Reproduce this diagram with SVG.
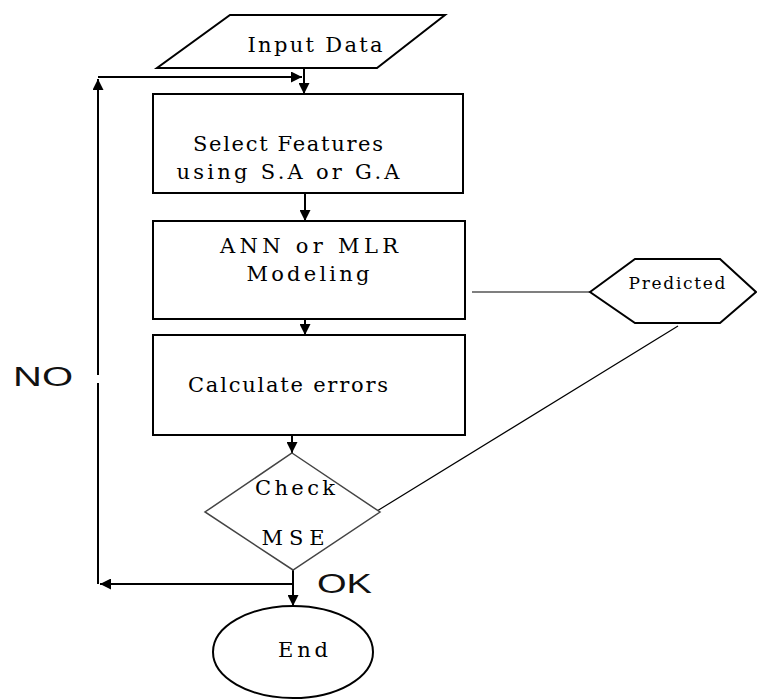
<svg xmlns="http://www.w3.org/2000/svg" width="757" height="700" viewBox="0 0 757 700">
<style>
.shape{fill:#fff;stroke:#000;stroke-width:2}
.gray{fill:#fff;stroke:#444;stroke-width:1.5}
.t{font-family:"DejaVu Serif","Liberation Serif",serif;font-size:21px;fill:#000;text-anchor:middle}
.p{font-family:"DejaVu Serif","Liberation Serif",serif;font-size:17px;fill:#000;text-anchor:middle}
.s{font-family:"Liberation Sans",sans-serif;font-size:27px;fill:#111}
.c{fill:none;stroke:#000;stroke-width:2}
.thin{fill:none;stroke:#000;stroke-width:1.2}
</style>
<defs>
<marker id="ah" viewBox="0 0 10 10" refX="10" refY="5" markerWidth="5.5" markerHeight="5.5" orient="auto" markerUnits="strokeWidth">
<path d="M0,0 L10,5 L0,10 z" fill="#000"/>
</marker>
</defs>
<rect width="757" height="700" fill="#fff"/>
<g id="connectors">
<line class="c" x1="304" y1="68" x2="304" y2="94" marker-end="url(#ah)"/>
<line class="c" x1="98" y1="77" x2="302" y2="77" marker-end="url(#ah)"/>
<line class="c" x1="98" y1="375" x2="98" y2="79" marker-end="url(#ah)"/>
<line class="c" x1="98" y1="383" x2="98" y2="584"/>
<line class="c" x1="305" y1="193" x2="305" y2="221" marker-end="url(#ah)"/>
<line class="c" x1="305" y1="319" x2="305" y2="335" marker-end="url(#ah)"/>
<line class="c" x1="292" y1="432" x2="292" y2="453" marker-end="url(#ah)"/>
<line class="c" x1="293" y1="570" x2="293" y2="606" marker-end="url(#ah)"/>
<line class="c" x1="293" y1="584" x2="100" y2="584" marker-end="url(#ah)"/>
<line class="thin" x1="472" y1="292" x2="590" y2="292"/>
<line class="thin" x1="678" y1="326" x2="377" y2="511"/>
</g>
<g id="input">
<polygon class="shape" points="230,15 445,15 377,68 157,68" stroke-width="1.5"/>
<text class="t" x="315" y="52" textLength="135" lengthAdjust="spacing">Input Data</text>
</g>
<g id="select">
<rect class="shape" x="153" y="94" width="310" height="99"/>
<text class="t" x="288" y="151" textLength="190" lengthAdjust="spacing">Select Features</text>
<text class="t" x="288" y="179" textLength="223" lengthAdjust="spacing">using S.A or G.A</text>
</g>
<g id="model">
<rect class="shape" x="153" y="221" width="312" height="98"/>
<text class="t" x="309" y="253" textLength="178" lengthAdjust="spacing">ANN or MLR</text>
<text class="t" x="308" y="281" textLength="123" lengthAdjust="spacing">Modeling</text>
</g>
<g id="calc">
<rect class="shape" x="153" y="335" width="312" height="100"/>
<text class="t" x="288" y="392" textLength="200" lengthAdjust="spacing">Calculate errors</text>
</g>
<g id="check">
<polygon class="gray" points="292,453 380,512 293,570 205,512"/>
<text class="t" x="295" y="495" textLength="80" lengthAdjust="spacing">Check</text>
<text class="t" x="293" y="545" textLength="63" lengthAdjust="spacing">MSE</text>
</g>
<g id="predicted">
<polygon class="shape" stroke-width="1.3" points="590,292 635,259 720,259 756,292 720,323 635,323"/>
<text class="p" x="677" y="289" textLength="97" lengthAdjust="spacing">Predicted</text>
</g>
<g id="end">
<ellipse class="shape" stroke-width="1.5" cx="293" cy="652" rx="80" ry="46"/>
<text class="t" x="303" y="657" textLength="50" lengthAdjust="spacing">End</text>
</g>
<g id="labels">
<text class="s" x="13" y="386" textLength="60" lengthAdjust="spacingAndGlyphs">NO</text>
<text class="s" x="317" y="593" textLength="55" lengthAdjust="spacingAndGlyphs">OK</text>
</g>
</svg>
